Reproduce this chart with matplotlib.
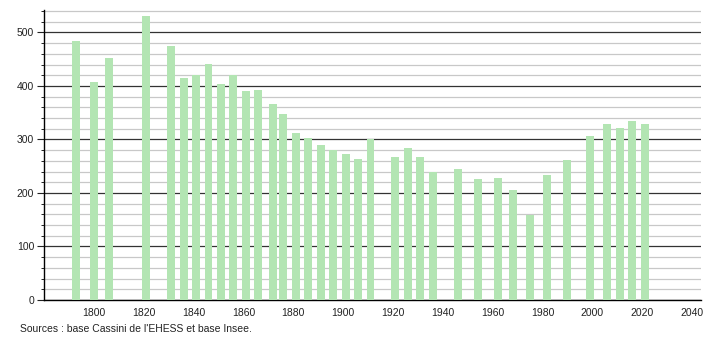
from matplotlib import pyplot as plt
from matplotlib.ticker import MultipleLocator

plt.rcParams['font.family'] = ['Liberation Sans', 'DejaVu Sans']

years = [1793, 1800, 1806, 1821, 1831, 1836, 1841, 1846, 1851, 1856, 1861, 1866,
         1872, 1876, 1881, 1886, 1891, 1896, 1901, 1906, 1911, 1921, 1926, 1931,
         1936, 1946, 1954, 1962, 1968, 1975, 1982, 1990, 1999, 2006, 2011, 2016, 2021]
pop = [484, 407, 452, 531, 475, 415, 420, 441, 404, 420, 391, 392,
       366, 348, 312, 302, 290, 280, 273, 263, 300, 267, 284, 267,
       239, 245, 226, 228, 206, 158, 234, 262, 307, 329, 321, 334, 329]

fig = plt.figure(figsize=(7.1, 3.4), dpi=100)
ax = fig.add_axes([44/710, 40/340, 657/710, 290/340])

ax.bar(years, pop, width=3.2, color='#b3e5b3', zorder=3)

ax.set_xlim(1780, 2043.6)
ax.set_ylim(0, 542)
ax.set_xticks(range(1800, 2041, 20))
ax.yaxis.set_major_locator(MultipleLocator(100))
ax.yaxis.set_minor_locator(MultipleLocator(20))
ax.grid(which='major', axis='y', color='#333333', lw=0.9, zorder=1)
ax.grid(which='minor', axis='y', color='#c8c8c8', lw=0.9, zorder=0)

for s in ['top', 'right']:
    ax.spines[s].set_visible(False)
ax.spines['left'].set_linewidth(1.0)
ax.spines['bottom'].set_linewidth(1.0)
ax.tick_params(axis='x', length=0, labelsize=7.5, pad=6, colors='#222222')
ax.tick_params(axis='y', which='major', length=5, labelsize=7.5, pad=2, colors='#222222')
ax.tick_params(axis='y', which='minor', length=2)

fig.text(20/710, 1 - 329/340, "Sources : base Cassini de l'EHESS et base Insee.",
         fontsize=7.5, va='center', ha='left', color='#222222')

plt.savefig('out.png')
